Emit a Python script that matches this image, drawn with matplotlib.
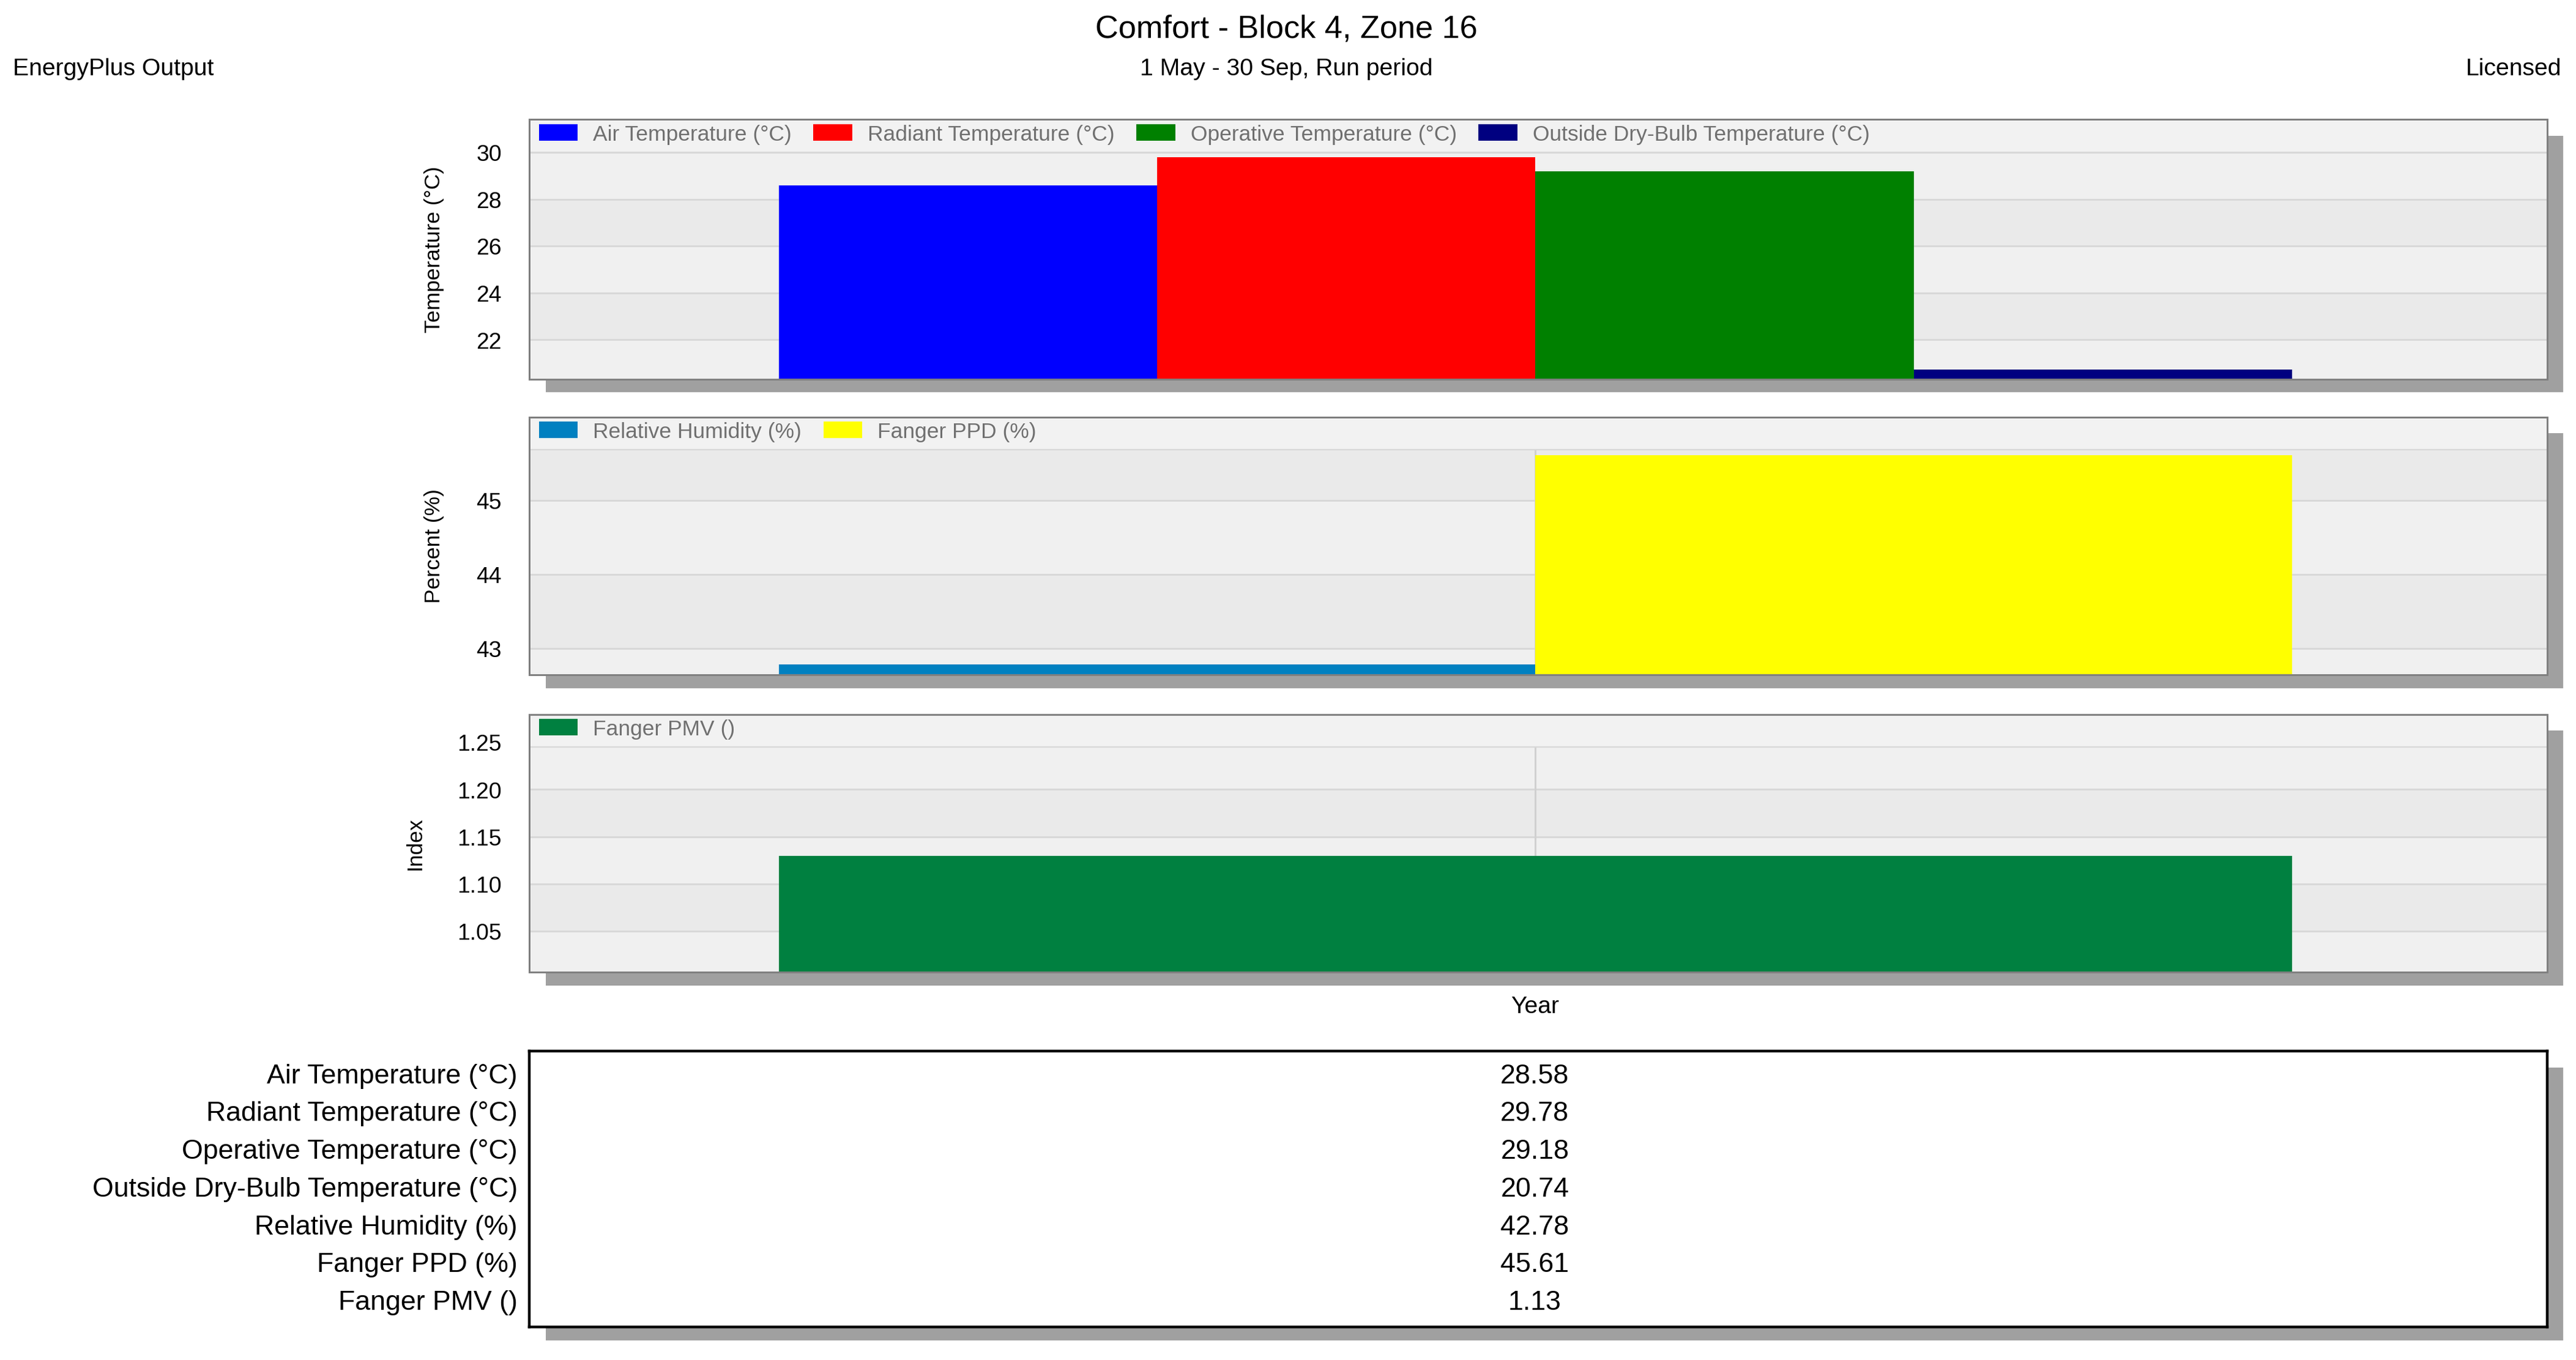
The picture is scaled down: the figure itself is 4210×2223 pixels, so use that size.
import matplotlib
matplotlib.use("Agg")
import matplotlib.pyplot as plt
from matplotlib.patches import Rectangle

temp_names = ["Air Temperature (°C)", "Radiant Temperature (°C)", "Operative Temperature (°C)", "Outside Dry-Bulb Temperature (°C)"]
temp_vals = [28.58, 29.78, 29.18, 20.74]
temp_colors = ["#0000FF", "#FF0000", "#008000", "#000080"]
pct_names = ["Relative Humidity (%)", "Fanger PPD (%)"]
pct_vals = [42.78, 45.61]
pct_colors = ["#0080C0", "#FFFF00"]
idx_names = ["Fanger PMV ()"]
idx_vals = [1.13]
idx_colors = ["#008040"]
table_names = temp_names + pct_names + idx_names
table_vals = ["28.58", "29.78", "29.18", "20.74", "42.78", "45.61", "1.13"]

W, H = 1568, 828
fig = plt.figure(figsize=(W/100, H/100), dpi=268.55)
fig.patch.set_facecolor("white")
plt.rcParams['font.family'] = ['Liberation Sans', 'DejaVu Sans']

def fax(x0, y0, x1, y1, **kw):
    return fig.add_axes([x0/W, 1-y1/H, (x1-x0)/W, (y1-y0)/H], **kw)

def shadow(x0, y0, x1, y1):
    s = fax(x0+10, y0+10, x1+10, y1+8)
    s.set_facecolor("#A0A0A0"); s.set_xticks([]); s.set_yticks([])
    for sp in s.spines.values(): sp.set_visible(False)
    s.set_zorder(0)

fig.text(783/W, 1-18/H, "Comfort - Block 4, Zone 16", ha="center", va="center", fontsize=14)
fig.text(783/W, 1-42/H, "1 May - 30 Sep, Run period", ha="center", va="center", fontsize=10.5)
fig.text(8/W, 1-42/H, "EnergyPlus Output", ha="left", va="center", fontsize=10.5)
fig.text(1559/W, 1-42/H, "Licensed", ha="right", va="center", fontsize=10.5)

XL = (-0.66, 4.674)

def panel(y0, y1, ylim, ticks, fmt, ylabel, names, vals, colors, widths, starts, legend_h=20, vline=False):
    shadow(322, y0, 1550, y1)
    ax = fax(322, y0, 1550, y1)
    ax.set_zorder(1)
    ax.set_facecolor("#EAEAEA")
    ax.set_xlim(*XL); ax.set_ylim(*ylim)
    # alternating bands
    allt = [ylim[0]] + list(ticks) + [ylim[1]]
    for i in range(len(allt)-1):
        ax.axhspan(allt[i], allt[i+1], color="#F0F0F0" if i % 2 == 0 else "#EAEAEA", zorder=0, lw=0)
    for t in ticks:
        ax.axhline(t, color="#D8D8D8", lw=0.8, zorder=0.5)
    for n, v, c, w, s in zip(names, vals, colors, widths, starts):
        ax.bar(s, v-ylim[0], width=w, bottom=ylim[0], align="edge", color=c, zorder=2, label=n)
    # legend strip
    pix = (ylim[1]-ylim[0])/(y1-y0)
    ax.axhspan(ylim[1]-legend_h*pix, ylim[1], color="#F2F2F2", zorder=1, lw=0)
    ax.axhline(ylim[1]-legend_h*pix, color="#D8D8D8", lw=0.6, zorder=1)
    if vline:
        ax.plot([2, 2], [ylim[0], ylim[1]-legend_h*pix], color="#D0D0D0", lw=0.8, zorder=0.5)
    ax.set_yticks(ticks)
    ax.set_yticklabels([fmt.format(t) for t in ticks], fontsize=10)
    ax.set_xticks([])
    ax.tick_params(axis="y", length=0, pad=12)
    ax.set_ylabel(ylabel, fontsize=9.5, labelpad=14)
    for sp in ax.spines.values():
        sp.set_color("#808080"); sp.set_linewidth(0.8)
    leg = ax.legend(loc="upper left", ncol=len(names), frameon=False, fontsize=9.5,
                    handlelength=1.8, handleheight=0.8, borderaxespad=0.05, columnspacing=1.0,
                    handletextpad=0.7, bbox_to_anchor=(0.0, 1.02))
    for t in leg.get_texts(): t.set_color("#707070")
    leg.set_zorder(5)
    return ax

panel(73, 231, (20.32, 31.4), [22, 24, 26, 28, 30], "{:.0f}", "Temperature (°C)",
      temp_names, temp_vals, temp_colors, [1, 1, 1, 1], [0, 1, 2, 3])
panel(254, 411, (42.64, 46.13), [43, 44, 45], "{:.0f}", "Percent (%)",
      pct_names, pct_vals, pct_colors, [2, 2], [0, 2], vline=True)
ax3 = panel(435, 592, (1.0065, 1.2796), [1.05, 1.10, 1.15, 1.20, 1.25], "{:.2f}", "Index",
      idx_names, idx_vals, idx_colors, [4], [0], vline=True)
fig.text(934/W, 1-613/H, "Year", ha="center", va="center", fontsize=10.5)

# table
shadow(322, 640, 1550, 808)
tb = fax(322, 640, 1550, 808)
tb.set_zorder(1)
tb.set_facecolor("white"); tb.set_xticks([]); tb.set_yticks([])
for sp in tb.spines.values(): sp.set_linewidth(1.2); sp.set_color("black")
for i, (n, v) in enumerate(zip(table_names, table_vals)):
    y = 655 + 23*i
    fig.text(315/W, 1-y/H, n, ha="right", va="center", fontsize=12)
    fig.text(934/W, 1-y/H, v, ha="center", va="center", fontsize=12)

fig.savefig("out.png", dpi=268.55)
